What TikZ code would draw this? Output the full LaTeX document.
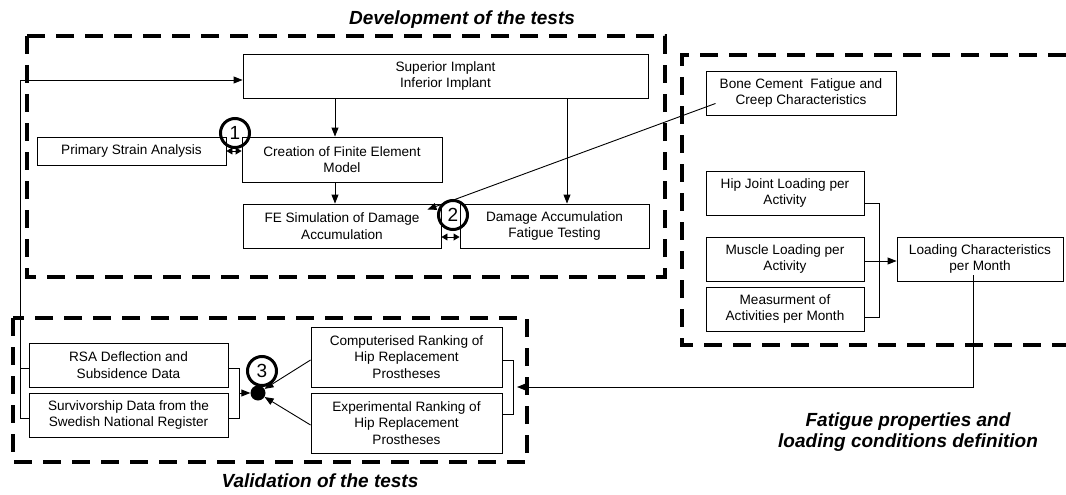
\documentclass[tikz,border=0pt]{standalone}
\usepackage{fontspec}
\setmainfont{Liberation Sans}
\usetikzlibrary{arrows.meta}
\begin{document}
\begin{tikzpicture}[x=1pt,y=-1pt,
  box/.style={draw,line width=0.9pt,inner sep=0pt,align=center,font=\fontsize{13.6}{16.3}\selectfont},
  arr/.style={-{Triangle[length=9pt,width=7pt]},line width=0.9pt},
  dbl/.style={{Triangle[length=6pt,width=7pt]}-{Triangle[length=6pt,width=7pt]},line width=0.9pt},
  ln/.style={line width=0.9pt},
  region/.style={line width=4.5pt,dash pattern=on 18pt off 11pt},
  num/.style={circle,draw,line width=3pt,minimum size=29pt,inner sep=0pt,font=\fontsize{19}{19}\selectfont},
  ttl/.style={font=\fontsize{19}{20.5}\selectfont\bfseries\itshape,align=center}]
\useasboundingbox (0,0) rectangle (1066,495);

% dashed regions
\draw[region] (27,36) rectangle (665,277);
\draw[region] (1066,55) -- (682,55) -- (682,345) -- (1066,345);
\draw[region] (13,318) rectangle (527,462);

% titles
\node[ttl] (t1) at (462,20) {Development of the tests};
\node[ttl] (t2) at (908,432) {Fatigue properties and\\loading conditions definition};
\node[ttl] (t3) at (320,481) {Validation of the tests};

% boxes
\node[box,minimum width=405pt,minimum height=44pt] (sup) at (445.5,76) {Superior Implant\\Inferior Implant};
\node[box,minimum width=189pt,minimum height=28pt] (psa) at (131.5,151) {Primary Strain Analysis};
\node[box,minimum width=200pt,minimum height=45pt] (cfe) at (342,159.5) {Creation of Finite Element\\Model};
\node[box,minimum width=198pt,minimum height=44pt] (fes) at (342,226) {FE Simulation of Damage\\Accumulation};
\node[box,minimum width=189pt,minimum height=44pt] (dat) at (554.5,226) {Damage Accumulation\\Fatigue Testing};
\node[box,minimum width=190pt,minimum height=44pt] (bcf) at (801,93) {Bone Cement~ Fatigue and\\Creep Characteristics};
\node[box,minimum width=158pt,minimum height=44pt] (hjl) at (785,193) {Hip Joint Loading per\\Activity};
\node[box,minimum width=158pt,minimum height=44pt] (mla) at (785,259) {Muscle Loading per\\Activity};
\node[box,minimum width=158pt,minimum height=44pt] (mam) at (785,309) {Measurment of\\Activities per Month};
\node[box,minimum width=166pt,minimum height=44pt] (lcm) at (980,259) {Loading Characteristics\\per Month};
\node[box,minimum width=199pt,minimum height=44pt] (rsa) at (128.5,365) {RSA Deflection and\\Subsidence Data};
\node[box,minimum width=199pt,minimum height=44pt] (sdr) at (128.5,415) {Survivorship Data from the\\Swedish National Register};
\node[box,minimum width=191pt,minimum height=60pt] (crk) at (406.5,357) {Computerised Ranking of\\Hip Replacement\\Prostheses};
\node[box,minimum width=191pt,minimum height=60pt] (erk) at (406.5,423) {Experimental Ranking of\\Hip Replacement\\Prostheses};

% junction dot and numbered circles
\node[circle,fill,inner sep=0pt,minimum size=15pt] (dot) at (258,393) {};
\node[num] (n1) at (235,133) {1};
\node[num] (n2) at (453,215) {2};
\node[num] (n3) at (262,371) {3};

% helper coordinates
\coordinate (xa) at (335,0);
\coordinate (xb) at (567,0);
\coordinate (fbx) at (20,0);
\coordinate (lbx) at (239,0);
\coordinate (rbx) at (513,0);
\coordinate (hbx) at (879,0);
\coordinate (lcx) at (973,0);

% development connectors
\draw[arr] (sup.south -| xa) -- (cfe.north -| xa);
\draw[arr] (cfe.south -| xa) -- (fes.north -| xa);
\draw[arr] (sup.south -| xb) -- (dat.north -| xb);
\draw[dbl] (psa.east) -- (psa.east -| cfe.west);
\coordinate (f2) at ([yshift=-11pt]fes.east);
\draw[dbl] (f2) -- (f2 -| dat.west);
\coordinate (bc) at ([xshift=10pt,yshift=12pt]bcf.south west);
\coordinate (ft) at ([xshift=-14pt,yshift=-6pt]fes.north east);
\draw[arr] (bc) -- (ft);

% feedback loop
\coordinate (r1) at ([yshift=-3pt]rsa.west);
\coordinate (s1) at ([yshift=-3pt]sdr.west);
\coordinate (u1) at ([yshift=-4pt]sup.west);
\draw[ln] (r1) -- (r1 -| fbx);
\draw[arr] (s1) -- (s1 -| fbx) -- (u1 -| fbx) -- (u1);

% validation connectors
\coordinate (r2) at ([yshift=-3pt]rsa.east);
\coordinate (s2) at ([yshift=-3pt]sdr.east);
\draw[ln] (r2) -- (r2 -| lbx) -- (s2 -| lbx) -- (s2);
\draw[arr] (dot -| lbx) -- (dot);
\draw[arr] ([yshift=-3pt]crk.west) -- (dot);
\draw[arr] ([yshift=-2pt]erk.west) -- (dot);
\coordinate (c2) at ([yshift=-3pt]crk.east);
\coordinate (e2) at ([yshift=9pt]erk.east);
\draw[ln] (c2) -- (c2 -| rbx) -- (e2 -| rbx) -- (e2);

% loading connectors
\coordinate (h1) at ([yshift=-10pt]hjl.east);
\coordinate (m1) at ([yshift=-8pt]mam.east);
\draw[ln] (h1) -- (h1 -| hbx) -- (m1 -| hbx) -- (m1);
\coordinate (m2) at ([yshift=-2pt]mla.east);
\draw[arr] (m2) -- (m2 -| lcm.west);
\coordinate (l0) at ([yshift=6pt]lcm.south);
\coordinate (ra) at (517,387);
\draw[arr] (l0 -| lcx) |- (ra);
\end{tikzpicture}
\end{document}
